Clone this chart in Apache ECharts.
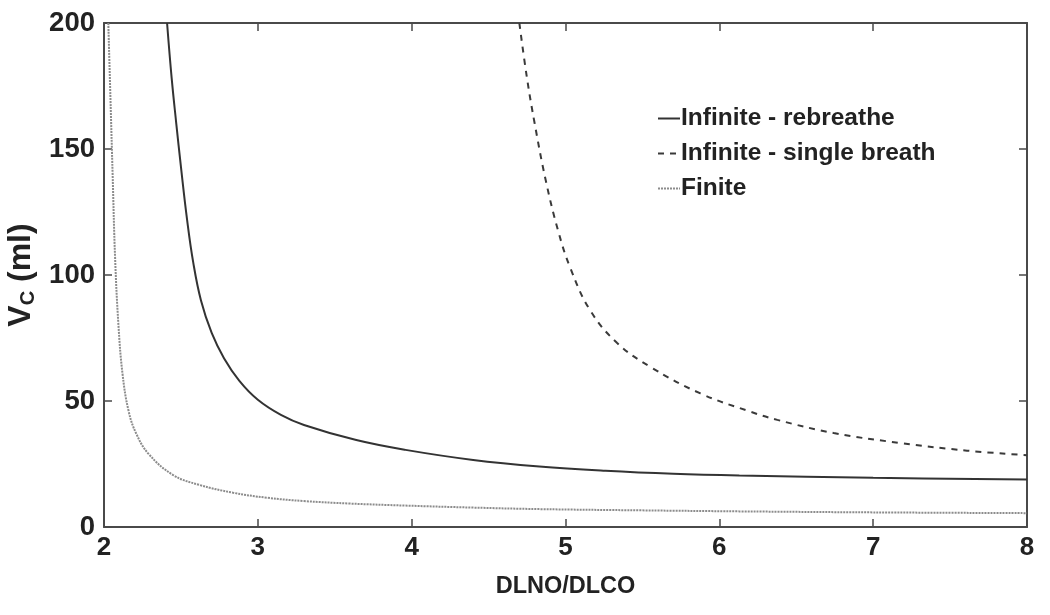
<!DOCTYPE html>
<html>
<head>
<meta charset="utf-8">
<script src="https://cdn.jsdelivr.net/npm/echarts@6/dist/echarts.min.js"></script>
<style>
html,body{margin:0;padding:0;background:#fff;}
#chart{width:1050px;height:615px;}
</style>
</head>
<body>
<div id="chart"></div>
<script>
// ---- Data ----
const seriesNames = ['Infinite - rebreathe', 'Infinite - single breath', 'Finite'];
const xTicks = [2, 3, 4, 5, 6, 7, 8];
const yTicks = [0, 50, 100, 150, 200];

const rebreatheX = [2.41, 2.44, 2.47, 2.50, 2.54, 2.58, 2.63, 2.70, 2.78, 2.88, 3.0, 3.15, 3.3, 3.64, 3.96, 4.4, 4.83, 5.26, 5.7, 6.13, 7.0, 8.0];
const rebreatheY = [200, 178, 160, 143, 122, 105, 90, 77, 67, 58, 50.5, 44.5, 40.5, 34.5, 30.6, 26.6, 24.0, 22.3, 21.1, 20.4, 19.5, 18.8];

const singleX = [4.70, 4.75, 4.80, 4.87, 4.95, 5.03, 5.16, 5.336, 5.55, 5.877, 6.2, 6.377, 6.743, 7.18, 7.61, 8.0];
const singleY = [200, 178, 160, 138, 118, 103, 86, 73, 63.6, 53, 45.8, 42.5, 37.3, 33.3, 30.3, 28.5];

const finiteX = [2.028, 2.042, 2.056, 2.072, 2.093, 2.12, 2.16, 2.21, 2.29, 2.45, 2.62, 2.84, 3.06, 3.3, 3.6, 3.96, 4.4, 4.83, 5.5, 6.13, 7.0, 8.0];
const finiteY = [200, 170, 140, 107, 81, 61, 46, 37, 29, 20.6, 16.7, 13.6, 11.6, 10.3, 9.3, 8.5, 7.7, 7.1, 6.6, 6.2, 5.8, 5.5];

function pairs(xs, ys){ return xs.map((x,i)=>[x, ys[i]]); }

const FONT = 'Liberation Sans, Arial, sans-serif';
const frameColor = '#4a4a4a';

const chart = echarts.init(document.getElementById('chart'), null, {renderer:'canvas'});

const baseX = {
  type:'value', min: xTicks[0], max: xTicks[xTicks.length-1], interval: 1,
  axisLine:{show:true, onZero:false, lineStyle:{color:frameColor, width:2}},
  axisTick:{show:true, inside:true, length:8, lineStyle:{color:frameColor, width:1.5}},
  splitLine:{show:false}
};
const baseY = {
  type:'value', min: yTicks[0], max: yTicks[yTicks.length-1], interval: 50,
  axisLine:{show:true, onZero:false, lineStyle:{color:frameColor, width:2}},
  axisTick:{show:true, inside:true, length:8, lineStyle:{color:frameColor, width:1.5}},
  splitLine:{show:false}
};

chart.setOption({
  animation:false,
  backgroundColor:'#fff',
  grid:{left:104, right:23, top:23, bottom:88, containLabel:false, outerBoundsMode:'none'},
  legend:{
    orient:'vertical', left:652, top:101, itemWidth:22, itemHeight:12, itemGap:10,
    itemStyle:{opacity:0},
    textStyle:{fontFamily:FONT, fontWeight:'bold', fontSize:24.5, color:'#222', padding:[0,0,0,-4]},
    data: seriesNames.map(n=>({name:n}))
  },
  xAxis:[
    Object.assign({}, baseX, {
      position:'bottom',
      name:'DLNO/DLCO', nameLocation:'middle', nameGap:48,
      nameTextStyle:{fontFamily:FONT, fontWeight:'bold', fontSize:23.5, color:'#222'},
      axisLabel:{fontFamily:FONT, fontWeight:'bold', fontSize:26, color:'#222', margin:8}
    }),
    Object.assign({}, baseX, {position:'top', axisLabel:{show:false}})
  ],
  yAxis:[
    Object.assign({}, baseY, {
      position:'left',
      name:'{v|V}{s|C}{v| (ml)}', nameLocation:'middle', nameGap:64, nameRotate:90,
      nameTextStyle:{rich:{
        v:{fontFamily:FONT, fontWeight:'bold', fontSize:32, color:'#222'},
        s:{fontFamily:FONT, fontWeight:'bold', fontSize:20, color:'#222', verticalAlign:'bottom', padding:[14,0,0,0]}
      }},
      axisLabel:{fontFamily:FONT, fontWeight:'bold', fontSize:27.5, color:'#222', margin:9}
    }),
    Object.assign({}, baseY, {position:'right', axisLabel:{show:false}})
  ],
  series:[
    {
      name:seriesNames[0], type:'line', data:pairs(rebreatheX, rebreatheY),
      symbol:'none', smooth:0.4,
      lineStyle:{color:'#333', width:2, type:'solid'}, itemStyle:{color:'#333'}
    },
    {
      name:seriesNames[1], type:'line', data:pairs(singleX, singleY),
      symbol:'none', smooth:0.4,
      lineStyle:{color:'#3a3a3a', width:2, type:[6,6]}, itemStyle:{color:'#3a3a3a'}
    },
    {
      name:seriesNames[2], type:'line', data:pairs(finiteX, finiteY),
      symbol:'none', smooth:0.4,
      lineStyle:{color:'#8c8c8c', width:2, type:[2,1]}, itemStyle:{color:'#8c8c8c'}
    }
  ]
});
</script>
</body>
</html>
